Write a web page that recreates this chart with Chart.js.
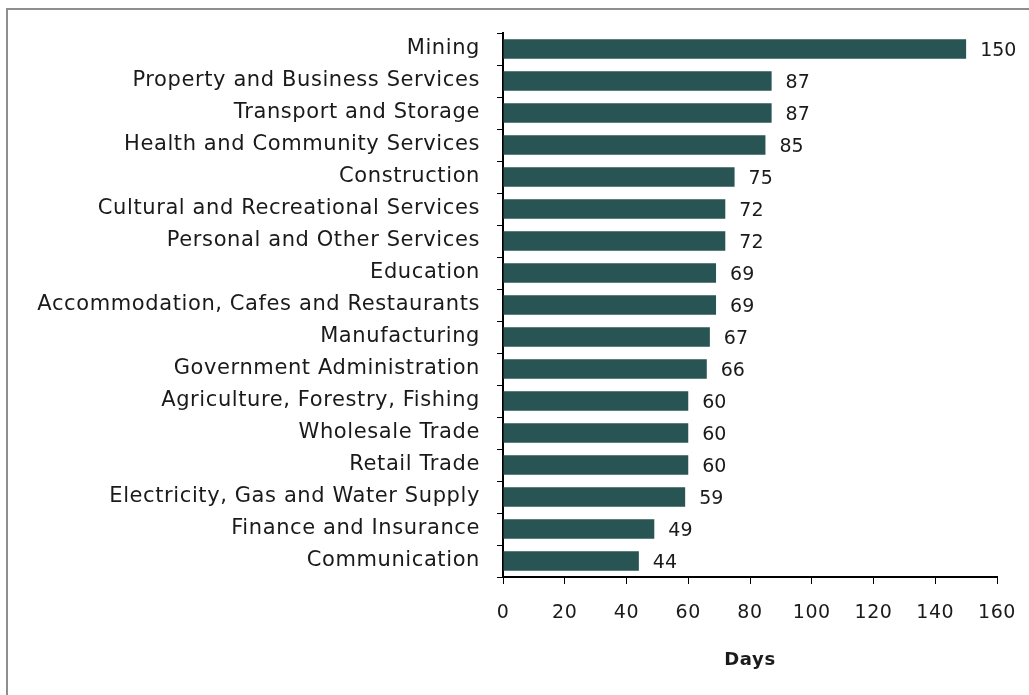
<!DOCTYPE html>
<html>
<head>
<meta charset="utf-8">
<script src="https://cdn.jsdelivr.net/npm/chart.js@4"></script>
<style>
  html, body { margin: 0; padding: 0; background: #fff; }
  #wrap { position: relative; width: 1029px; height: 695px; overflow: hidden; }
  #frame {
    position: absolute; left: 6px; top: 8px; width: 1100px; height: 800px;
    border-top: 2px solid #8e8e8e; border-left: 2px solid #8e8e8e;
  }
  canvas { position: absolute; left: 0; top: 0; }
</style>
</head>
<body>
<div id="wrap">
  <div id="frame"></div>
  <canvas id="myChart" width="1029" height="695"></canvas>
</div>
<script>
// Days by industry
const industries = [
  'Mining',
  'Property and Business Services',
  'Transport and Storage',
  'Health and Community Services',
  'Construction',
  'Cultural and Recreational Services',
  'Personal and Other Services',
  'Education',
  'Accommodation, Cafes and Restaurants',
  'Manufacturing',
  'Government Administration',
  'Agriculture, Forestry, Fishing',
  'Wholesale Trade',
  'Retail Trade',
  'Electricity, Gas and Water Supply',
  'Finance and Insurance',
  'Communication'
];
const days = [150, 87, 87, 85, 75, 72, 72, 69, 69, 67, 66, 60, 60, 60, 59, 49, 44];
const xTicks = [0, 20, 40, 60, 80, 100, 120, 140, 160];

const FONT = 'DejaVu Sans';
const TEXT = '#1a1a1a';

// a little extra spacing, the original uses a wider geometric font
const spacing = {
    id: 'spacing',
    beforeDraw(chart) { chart.ctx.letterSpacing = '0.6px'; },
    afterDraw(chart) { chart.ctx.letterSpacing = '0px'; }
};

// draw the value next to each bar end
const valueLabels = {
    id: 'valueLabels',
    afterDatasetsDraw(chart) {
        const ctx = chart.ctx;
        const meta = chart.getDatasetMeta(0);
        ctx.save();
        ctx.letterSpacing = '0px';
        ctx.font = '19px "' + FONT + '"';
        ctx.fillStyle = TEXT;
        ctx.textAlign = 'left';
        ctx.textBaseline = 'middle';
        meta.data.forEach((bar, i) => {
            ctx.fillText(String(days[i]), bar.x + 14, bar.y + 2);
        });
        ctx.restore();
    }
};

new Chart(document.getElementById('myChart').getContext('2d'), {
    type: 'bar',
    data: {
        labels: industries,
        datasets: [{
            data: days,
            backgroundColor: '#285553',
            borderWidth: 0,
            barPercentage: 0.61,
            categoryPercentage: 1
        }]
    },
    options: {
        indexAxis: 'y',
        responsive: false,
        animation: false,
        layout: { padding: { top: 33, right: 32, left: 0, bottom: 0 } },
        plugins: {
            legend: { display: false },
            tooltip: { enabled: false }
        },
        scales: {
            y: {
                afterFit(scale) { scale.width = 503; },
                grid: {
                    offset: true,
                    drawOnChartArea: false,
                    drawTicks: true,
                    tickLength: 6,
                    color: '#000',
                    tickColor: '#000'
                },
                border: { display: true, color: '#000', width: 2 },
                ticks: {
                    color: TEXT,
                    font: { family: FONT, size: 21 },
                    padding: 17,
                    autoSkip: false
                }
            },
            x: {
                min: 0,
                max: 160,
                afterFit(scale) {
                    scale.height = 118;
                    scale.paddingLeft = 0;
                    scale.paddingRight = 0;
                },
                afterBuildTicks(scale) { scale.ticks = xTicks.map(v => ({ value: v })); },
                grid: {
                    drawOnChartArea: false,
                    drawTicks: true,
                    tickLength: 7,
                    color: '#000',
                    tickColor: '#000'
                },
                border: { display: true, color: '#000', width: 2 },
                ticks: {
                    color: TEXT,
                    font: { family: FONT, size: 19 },
                    padding: 18
                },
                title: {
                    display: true,
                    text: 'Days',
                    color: TEXT,
                    font: { family: FONT, size: 18, weight: 'bold' },
                    padding: { top: 10, bottom: 24 }
                }
            }
        }
    },
    plugins: [spacing, valueLabels]
});
</script>
</body>
</html>
